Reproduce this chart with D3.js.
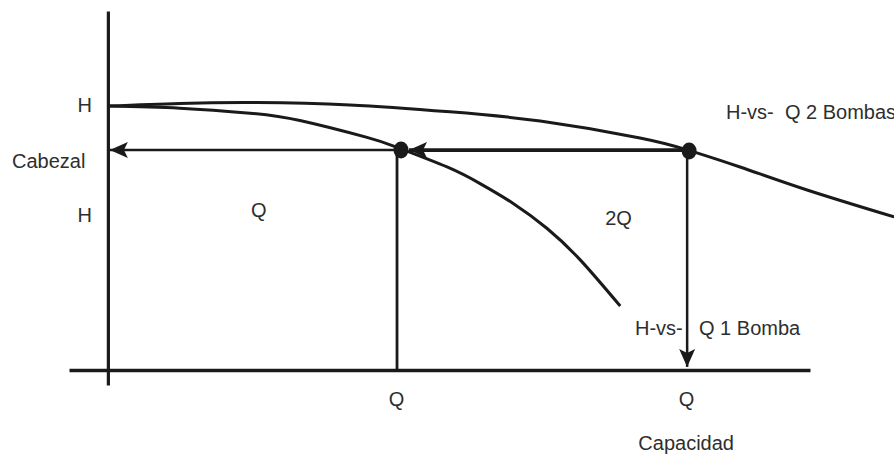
<!DOCTYPE html>
<html>
<head>
<meta charset="utf-8">
<script src="https://cdn.jsdelivr.net/npm/d3@7"></script>
<style>
  body { margin: 0; background: #fff; }
  text { font-family: "Liberation Sans", Arial, sans-serif; font-size: 20px; fill: #2e2e2e; }
</style>
</head>
<body>
<script>
// Curve data (Q in units of one pump's operating flow, H relative to shut-off head)
var pump1Q = [0, 0.248, 0.490, 0.662, 0.893, 1.0, 1.169, 1.283, 1.397, 1.514, 1.628, 1.766];
var pump1H = [1.0, 0.992, 0.973, 0.945, 0.881, 0.842, 0.769, 0.706, 0.631, 0.536, 0.417, 0.242];

var pump2Q = [0, 0.248, 0.514, 0.834, 1.179, 1.490, 1.834, 2.0, 2.179, 2.410, 2.710];
var pump2H = [1.0, 1.010, 1.013, 1.004, 0.978, 0.943, 0.879, 0.833, 0.769, 0.682, 0.580];

// Operating points
var opQ = [1, 2];
var opH = 0.833;

// Axis tick labels
var xTicks = [1, 2];
var xTickLabels = ["Q", "Q"];

// SVG dimensions
var svgWidth = 894;
var svgHeight = 457;

var svg = d3.select("body")
    .append("svg")
    .attr("width", svgWidth)
    .attr("height", svgHeight);

// Scales (axes run a little past the origin as in the sketch)
var xScale = d3.scaleLinear()
    .domain([-0.134, 2.42])
    .range([69, 810]);

var yScale = d3.scaleLinear()
    .domain([-0.057, 1.36])
    .range([385, 11]);

var ink = "#1a1a1a";

// Arrow marker
var defs = svg.append("defs");
defs.append("marker")
    .attr("id", "arrow")
    .attr("markerUnits", "userSpaceOnUse")
    .attr("viewBox", "-18 -9 20 18")
    .attr("refX", 0)
    .attr("refY", 0)
    .attr("markerWidth", 20)
    .attr("markerHeight", 18)
    .attr("orient", "auto")
    .append("path")
    .attr("d", "M0,0 L-18,-8 L-14,0 L-18,8 Z")
    .attr("fill", ink);

// X axis
var xAxis = d3.axisBottom(xScale)
    .tickValues(xTicks)
    .tickFormat((d, i) => xTickLabels[i])
    .tickSize(0)
    .tickPadding(22);

var gx = svg.append("g")
    .attr("transform", `translate(0, ${yScale(0)})`)
    .call(xAxis);
gx.select(".domain").attr("stroke", ink).attr("stroke-width", 3.5);
gx.selectAll("text")
    .attr("font-size", null)
    .attr("font-family", null)
    .attr("fill", null)
    .attr("dx", -2);

// Y axis
var yAxis = d3.axisLeft(yScale)
    .tickValues([])
    .tickSizeOuter(0);

var gy = svg.append("g")
    .attr("transform", `translate(${xScale(0)}, 0)`)
    .call(yAxis);
gy.select(".domain").attr("stroke", ink).attr("stroke-width", 3.2);

// Pump curves
var line = d3.line()
    .x(d => xScale(d[0]))
    .y(d => yScale(d[1]))
    .curve(d3.curveNatural);

svg.append("path")
    .datum(d3.zip(pump1Q, pump1H))
    .attr("d", line)
    .attr("fill", "none")
    .attr("stroke", ink)
    .attr("stroke-width", 3);

svg.append("path")
    .datum(d3.zip(pump2Q, pump2H))
    .attr("d", line)
    .attr("fill", "none")
    .attr("stroke", ink)
    .attr("stroke-width", 3);

// Horizontal arrow from single-pump point to head axis
svg.append("line")
    .attr("x1", xScale(opQ[0]))
    .attr("y1", yScale(opH))
    .attr("x2", xScale(0) + 2)
    .attr("y2", yScale(opH))
    .attr("stroke", ink)
    .attr("stroke-width", 2.5)
    .attr("marker-end", "url(#arrow)");

// Thick arrow from two-pump point to single-pump point
svg.append("line")
    .attr("x1", xScale(opQ[1]))
    .attr("y1", yScale(opH))
    .attr("x2", xScale(opQ[0]) + 11)
    .attr("y2", yScale(opH))
    .attr("stroke", ink)
    .attr("stroke-width", 3.6)
    .attr("marker-end", "url(#arrow)");

// Vertical line down from single-pump point
svg.append("line")
    .attr("x1", xScale(opQ[0]) - 1)
    .attr("y1", yScale(opH))
    .attr("x2", xScale(opQ[0]) - 1)
    .attr("y2", yScale(0))
    .attr("stroke", ink)
    .attr("stroke-width", 2.8);

// Vertical arrow down from two-pump point
svg.append("line")
    .attr("x1", xScale(opQ[1]) - 1)
    .attr("y1", yScale(opH) + 2)
    .attr("x2", xScale(opQ[1]) - 1)
    .attr("y2", yScale(0) - 3)
    .attr("stroke", ink)
    .attr("stroke-width", 2.5)
    .attr("marker-end", "url(#arrow)");

// Operating point dots
svg.selectAll(".op")
    .data(opQ)
    .enter()
    .append("ellipse")
    .attr("class", "op")
    .attr("cx", (d, i) => xScale(d) + (i === 0 ? 3 : 1))
    .attr("cy", (d, i) => yScale(opH) + i)
    .attr("rx", 7.5)
    .attr("ry", 8.5)
    .attr("fill", ink);

// Labels
function label(txt, x, y, anchor) {
    svg.append("text")
        .attr("x", x)
        .attr("y", y)
        .attr("text-anchor", anchor || "start")
        .style("white-space", "pre")
        .text(txt);
}

label("H", 92, yScale(1) + 6, "end");
label("Cabezal", 12, 168);
label("H", 92, 222, "end");
label("Q", xScale(0.52), 217, "middle");
label("2Q", xScale(1.76), 225, "middle");
label("H-vs-  Q 2 Bombas", 726, 119);
label("H-vs-", 635, 335);
label("Q 1 Bomba", 699, 335);
label("Capacidad", xScale(2) - 2, 450, "middle");
</script>
</body>
</html>
